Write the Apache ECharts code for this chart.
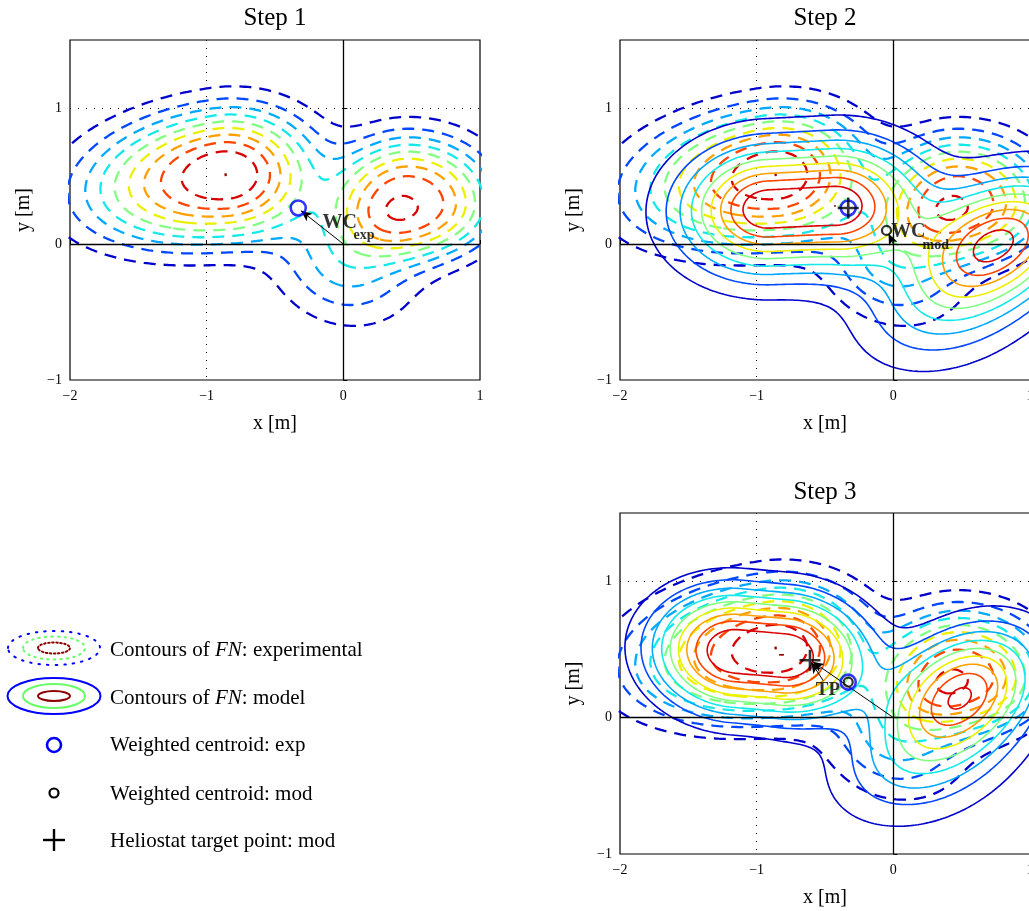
<!DOCTYPE html>
<html>
<head>
<meta charset="utf-8">
<script src="https://cdn.jsdelivr.net/npm/echarts@6/dist/echarts.min.js"></script>
<style>
  html, body { margin: 0; background: #fff; }
  #chart { width: 1029px; height: 911px; }
</style>
</head>
<body>
<div id="chart"></div>
<script>
// contour levels (fraction of each field's peak) and their jet colours
const levels = [0.1, 0.2, 0.3, 0.4, 0.5, 0.6, 0.7, 0.8, 0.9, 0.99995];
const levelColors = ['#0000cc', '#0048ff', '#00a8ff', '#14e8e8', '#80ff80',
                     '#eaf000', '#ffa000', '#ff4400', '#d80000', '#900000'];

// flux spots:
// amp, cx, cy, sxLeft, sxRight, syDown, syUp, angle (deg), halfLength, exponent
const expSpots = [
  [0.93, -0.88, 0.50, 0.75, 0.50, 0.36, 0.37, 8, 0, 2.6],
  [0.10, -0.86, 0.52, 0.25, 0.25, 0.18, 0.18, 0, 0, 2],
  [0.91, 0.48, 0.30, 0.40, 0.46, 0.30, 0.36, 0, 0, 2.6],
  [0.35, 0.00, -0.15, 0.35, 0.35, 0.28, 0.28, -20, 0, 2]
];
const step2Spots = [
  [1.00, -0.67, 0.27, 0.42, 0.42, 0.31, 0.31, 3, 0.24, 2],
  [0.85, 0.79, 0.04, 0.42, 0.42, 0.28, 0.28, 25, 0, 2],
  [0.30, 0.38, -0.45, 0.45, 0.45, 0.30, 0.30, 20, 0, 2]
];
const step3Spots = [
  [1.00, -0.975, 0.47, 0.42, 0.42, 0.315, 0.315, -5, 0.175, 2.3],
  [0.82, 0.52, 0.20, 0.38, 0.38, 0.27, 0.27, 30, 0, 2],
  [0.32, 0.20, -0.30, 0.45, 0.45, 0.30, 0.30, 20, 0, 2]
];

// markers per step (null = not drawn)
const wcExp = [[-0.33, 0.265], [-0.33, 0.265], [-0.33, 0.26]];
const wcMod = [null, [-0.05, 0.10], [-0.33, 0.26]];
const targetPt = [null, [-0.33, 0.265], [-0.61, 0.42]];
// arrows: [fromX, fromY, toX, toY]
const arrows = [
  [[0, 0, -0.31, 0.245]],
  [[0, 0, -0.035, 0.075]],
  [[0, 0, -0.59, 0.41], [-0.513, 0.27, -0.60, 0.405]]
];
// text annotations: x, y, text, size
const notes = [
  [[-0.156, 0.154, 'WC', 20], [0.071, 0.066, 'exp', 14]],
  [[-0.02, 0.09, 'WC', 20], [0.21, -0.01, 'mod', 14]],
  [[-0.571, 0.20, 'TP', 19]]
];
const titles = ['Step 1', 'Step 2', 'Step 3'];
const xTicks = [-2, -1, 0, 1];
const yTicks = [-1, 0, 1];

const FONT = 'Liberation Serif';
const grids = [
  { left: 70, top: 40, width: 410, height: 340 },
  { left: 620, top: 40, width: 410, height: 340 },
  { left: 620, top: 513, width: 410, height: 341 }
];
const fieldsPerPanel = [[expSpots, null], [expSpots, step2Spots], [expSpots, step3Spots]];

function fieldAt(spots, x, y) {
  let s = 0;
  for (const [amp, cx, cy, sxL, sxR, syD, syU, ang, half, q] of spots) {
    const t = ang * Math.PI / 180, c = Math.cos(t), sn = Math.sin(t);
    const dx = x - cx, dy = y - cy;
    let u = dx * c + dy * sn;
    const v = -dx * sn + dy * c;
    u = u > half ? u - half : (u < -half ? u + half : 0);
    const ru = u / (u < 0 ? sxL : sxR), rv = v / (v < 0 ? syD : syU);
    s += amp * Math.exp(-0.5 * Math.pow(ru * ru + rv * rv, q / 2));
  }
  return s;
}

const xs = [], ys = [];
for (let x = -2.1; x <= 1.1001; x += 0.02) xs.push(x);
for (let y = -1.1; y <= 1.6001; y += 0.02) ys.push(y);

function sampleField(spots) {
  const f = [];
  let max = 0;
  for (let j = 0; j < ys.length; j++) {
    const row = [];
    for (let i = 0; i < xs.length; i++) {
      const v = fieldAt(spots, xs[i], ys[j]);
      row.push(v);
      if (v > max) max = v;
    }
    f.push(row);
  }
  return f.map(r => r.map(v => v / max));
}

// marching squares, segments joined into polylines; returns [[x,y],...,null,...]
function contour(f, level) {
  const pts = new Map(), adj = new Map(), segs = [];
  const above = (i, j) => f[j][i] >= level;
  function edge(type, i, j) {
    const key = type + i + '_' + j;
    if (!pts.has(key)) {
      let p;
      if (type === 'h') {
        const a = f[j][i], b = f[j][i + 1], t = (level - a) / (b - a);
        p = [xs[i] + t * (xs[i + 1] - xs[i]), ys[j]];
      } else {
        const a = f[j][i], b = f[j + 1][i], t = (level - a) / (b - a);
        p = [xs[i], ys[j] + t * (ys[j + 1] - ys[j])];
      }
      pts.set(key, p);
    }
    return key;
  }
  function addSeg(k1, k2) {
    const id = segs.length;
    segs.push([k1, k2]);
    for (const k of [k1, k2]) {
      if (!adj.has(k)) adj.set(k, []);
      adj.get(k).push(id);
    }
  }
  for (let j = 0; j < ys.length - 1; j++) {
    for (let i = 0; i < xs.length - 1; i++) {
      const a0 = above(i, j), a1 = above(i + 1, j), a2 = above(i + 1, j + 1), a3 = above(i, j + 1);
      const cut = [];
      if (a0 !== a1) cut.push(edge('h', i, j));
      if (a1 !== a2) cut.push(edge('v', i + 1, j));
      if (a2 !== a3) cut.push(edge('h', i, j + 1));
      if (a3 !== a0) cut.push(edge('v', i, j));
      if (cut.length === 2) addSeg(cut[0], cut[1]);
      else if (cut.length === 4) {
        const mid = (f[j][i] + f[j][i + 1] + f[j + 1][i + 1] + f[j + 1][i]) / 4 >= level;
        const [B, R, T, L] = cut;
        if (a0 === mid) { addSeg(B, R); addSeg(T, L); }
        else { addSeg(L, B); addSeg(R, T); }
      }
    }
  }
  const used = new Uint8Array(segs.length);
  const out = [];
  function walk(start) {
    const chain = [];
    let cur = start;
    for (;;) {
      const nx = (adj.get(cur) || []).find(s => !used[s]);
      if (nx === undefined) break;
      used[nx] = 1;
      const [a, b] = segs[nx];
      cur = a === cur ? b : a;
      chain.push(cur);
    }
    return chain;
  }
  for (let s = 0; s < segs.length; s++) {
    if (used[s]) continue;
    used[s] = 1;
    const [k1, k2] = segs[s];
    const fwd = walk(k2);
    const back = walk(k1).reverse();
    const chain = back.concat([k1, k2], fwd);
    for (const k of chain) out.push(pts.get(k));
    out.push(null);
  }
  return out;
}

const expField = sampleField(expSpots);
const series = [];
fieldsPerPanel.forEach(([expS, modS], g) => {
  const sets = [[expField, true]];
  if (modS) sets.push([sampleField(modS), false]);
  sets.forEach(([f, dashed]) => {
    levels.forEach((lv, k) => {
      series.push({
        type: 'line', xAxisIndex: g, yAxisIndex: g,
        data: contour(f, lv), symbol: 'none', showSymbol: false,
        silent: true, clip: true, z: dashed ? 2 : 3,
        lineStyle: dashed
          ? { color: levelColors[k], width: 2.3, type: [12, 8] }
          : { color: levelColors[k], width: 1.6, type: 'solid' }
      });
    });
  });

  // zero lines and arrows
  const ml = [{ xAxis: 0 }, { yAxis: 0 }];
  arrows[g].forEach(a => ml.push([
    { coord: [a[0], a[1]], symbol: 'none', lineStyle: { width: 1 } },
    { coord: [a[2], a[3]], symbol: 'arrow', symbolSize: [7, 11] }
  ]));
  series.push({
    type: 'scatter', xAxisIndex: g, yAxisIndex: g, z: 6, silent: true,
    data: [],
    markLine: {
      silent: true, symbol: ['none', 'none'], label: { show: false },
      animation: false,
      lineStyle: { color: '#000', width: 1.3, type: 'solid' },
      data: ml
    }
  });

  const hollow = (color, bw) => ({ color: 'rgba(0,0,0,0)', borderColor: color, borderWidth: bw });
  if (wcExp[g]) series.push({
    type: 'scatter', xAxisIndex: g, yAxisIndex: g, z: 7, silent: true,
    symbol: 'circle', symbolSize: 15, itemStyle: hollow('#0000ff', 2.6), data: [wcExp[g]]
  });
  if (wcMod[g]) series.push({
    type: 'scatter', xAxisIndex: g, yAxisIndex: g, z: 8, silent: true,
    symbol: 'circle', symbolSize: 9, itemStyle: hollow('#000', 2.2), data: [wcMod[g]]
  });
  if (targetPt[g]) series.push({
    type: 'scatter', xAxisIndex: g, yAxisIndex: g, z: 9, silent: true,
    symbol: 'path://M10,0L10,20M0,10L20,10', symbolSize: 21,
    itemStyle: hollow('#000', 2.6), data: [targetPt[g]]
  });
  series.push({
    type: 'scatter', xAxisIndex: g, yAxisIndex: g, z: 10, silent: true,
    symbol: 'circle', symbolSize: 1, itemStyle: { color: 'rgba(0,0,0,0)' },
    data: notes[g].map(n => ({
      value: [n[0], n[1]],
      label: {
        show: true, position: 'right', distance: 0, formatter: n[2],
        fontFamily: FONT, fontWeight: 'bold', fontSize: n[3], color: '#000'
      }
    }))
  });
});

const minus = v => (v < 0 ? '\u2212' + (-v) : String(v));
const split = { show: true, showMinLine: false, showMaxLine: false, lineStyle: { color: '#000', width: 1, type: [1, 7] } };
const xAxis = grids.map((_, g) => ({
  gridIndex: g, type: 'value', min: xTicks[0], max: xTicks[xTicks.length - 1], interval: 1,
  name: 'x [m]', nameLocation: 'middle', nameGap: 34,
  nameTextStyle: { fontFamily: FONT, fontSize: 20, color: '#000' },
  axisLine: { show: false },
  axisTick: { show: true, inside: true, length: 4, lineStyle: { color: '#000' } },
  axisLabel: { fontFamily: FONT, fontSize: 14, color: '#000', margin: 9, formatter: minus },
  splitLine: split
}));
const yAxis = grids.map((_, g) => ({
  gridIndex: g, type: 'value', min: yTicks[0], max: 1.5, interval: 1,
  name: 'y [m]', nameLocation: 'middle', nameGap: 36, nameRotate: 90,
  nameTextStyle: { fontFamily: FONT, fontSize: 20, color: '#000' },
  axisLine: { show: false },
  axisTick: { show: true, inside: true, length: 4, lineStyle: { color: '#000' } },
  axisLabel: { fontFamily: FONT, fontSize: 14, color: '#000', margin: 8, formatter: minus, showMaxLabel: false },
  splitLine: split
}));

const titlePos = [[275, 18], [825, 18], [825, 492]];
const graphic = titles.map((t, i) => ({
  type: 'text', x: titlePos[i][0], y: titlePos[i][1], silent: true,
  style: { text: t, font: '25px "' + FONT + '"', fill: '#000', align: 'center', verticalAlign: 'middle' }
}));

// legend (bottom left)
const legendText = [
  ['{r|Contours of }{i|FN}{r|: experimental}', 650],
  ['{r|Contours of }{i|FN}{r|: model}', 698],
  ['{r|Weighted centroid: exp}', 745],
  ['{r|Weighted centroid: mod}', 794],
  ['{r|Heliostat target point: mod}', 841]
];
legendText.forEach(([t, y]) => graphic.push({
  type: 'text', x: 110, y: y, silent: true,
  style: {
    text: t, fill: '#000', verticalAlign: 'middle', align: 'left',
    rich: {
      r: { fontFamily: FONT, fontSize: 21, color: '#000' },
      i: { fontFamily: FONT, fontSize: 21, fontStyle: 'italic', color: '#000' }
    }
  }
}));
const ell = (cy, rx, ry, color, dash) => ({
  type: 'ellipse', silent: true, shape: { cx: 54, cy: cy, rx: rx, ry: ry },
  style: { fill: 'none', stroke: color, lineWidth: 2, lineDash: dash, lineCap: 'round' }
});
graphic.push(
  ell(648, 46, 17, '#0000ff', [1.5, 7]), ell(648, 31, 11.5, '#66ff66', [1.5, 5]), ell(648, 16, 5.5, '#8b0000', [1.5, 2.5]),
  ell(696, 46.5, 18, '#0000ff', null), ell(696, 31, 12, '#66ff66', null), ell(696, 16, 5, '#8b0000', null),
  { type: 'circle', silent: true, shape: { cx: 54, cy: 745, r: 7 }, style: { fill: 'none', stroke: '#0000ff', lineWidth: 2.6 } },
  { type: 'circle', silent: true, shape: { cx: 54, cy: 793, r: 4.5 }, style: { fill: 'none', stroke: '#000', lineWidth: 2.2 } },
  { type: 'line', silent: true, shape: { x1: 43, y1: 840, x2: 65, y2: 840 }, style: { stroke: '#000', lineWidth: 2.4 } },
  { type: 'line', silent: true, shape: { x1: 54, y1: 829, x2: 54, y2: 851 }, style: { stroke: '#000', lineWidth: 2.4 } }
);

const chart = echarts.init(document.getElementById('chart'), null, { renderer: 'canvas' });
chart.setOption({
  animation: false,
  backgroundColor: '#fff',
  grid: grids.map(g => Object.assign({
    show: true, borderColor: '#000', borderWidth: 1.2, backgroundColor: 'rgba(0,0,0,0)',
    outerBoundsMode: 'none', containLabel: false
  }, g)),
  xAxis: xAxis,
  yAxis: yAxis,
  series: series,
  graphic: graphic
});
</script>
</body>
</html>
